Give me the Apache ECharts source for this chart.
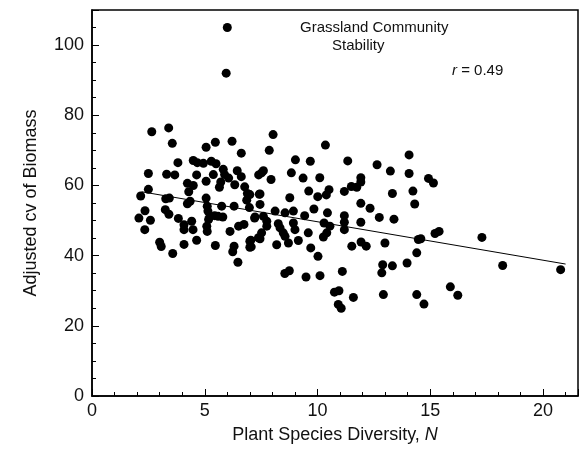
<!DOCTYPE html>
<html>
<head>
<meta charset="utf-8">
<script src="https://cdn.jsdelivr.net/npm/echarts@6/dist/echarts.min.js"></script>
<style>html,body{margin:0;background:#fff}#main{width:580px;height:451px}</style>
</head>
<body>
<div id="main"></div>
<script>
// 读图估计的点: 物种多样性 N, 生物量校正 CV
var diversity = [2.65,3.40,3.56,2.50,3.31,3.67,3.81,2.50,2.16,2.35,2.08,2.59,2.34,3.00,3.07,3.58,3.27,3.43,3.25,3.41,3.83,4.08,4.08,4.42,4.08,4.64,4.48,4.23,4.49,4.29,4.23,4.35,4.64,4.49,4.67,4.94,5.06,5.47,5.29,5.50,5.38,5.06,5.65,5.71,5.82,5.88,6.06,5.06,5.11,5.14,5.23,5.44,5.59,5.80,5.75,5.17,5.09,5.11,5.47,6.12,6.30,6.50,6.74,7.04,7.06,6.30,6.24,6.47,6.21,6.62,6.33,6.44,6.62,6.77,6.89,6.86,6.98,7.21,7.39,7.42,7.38,
  8.03,7.86,10.35,9.02,9.68,11.34,12.64,13.23,14.06,14.06,14.23,14.31,13.32,7.52,7.60,7.94,8.84,9.36,10.10,9.61,10.01,10.39,10.51,11.19,11.50,11.74,11.92,11.92,8.77,7.45,7.45,7.00,11.92,12.33,9.84,8.12,8.56,8.93,9.43,10.44,11.19,12.74,13.39,7.23,7.60,7.75,8.26,8.93,10.29,10.55,11.19,11.92,11.19,7.75,8.34,8.48,9.00,9.59,10.41,10.26,7.52,7.45,7.00,8.56,8.71,9.15,8.19,7.00,9.70,10.02,11.52,11.93,12.16,12.99,14.40,14.47,8.55,8.75,9.49,10.11,11.10,12.89,13.32,13.97,12.85,10.75,10.95,11.59,10.92,12.92,14.40,
  14.92,15.14,15.21,15.39,14.58,17.29,18.21,20.78,14.72,15.89,16.22,11.05,6.00,5.95];
var cvBiomass = [75.3,76.4,72.0,63.4,63.2,63.0,66.5,58.9,57.0,52.8,50.7,50.1,47.4,43.8,42.6,40.6,56.2,56.4,53.1,51.8,50.6,48.8,47.4,49.8,43.2,44.4,47.4,60.6,60.0,58.2,54.8,55.5,63.0,67.1,66.5,66.3,70.9,72.3,66.9,66.2,63.1,61.2,59.5,61.0,64.6,63.1,62.1,56.4,54.1,52.7,51.2,51.4,51.2,51.0,54.1,50.3,48.4,46.9,42.9,46.9,54.1,48.4,48.9,44.4,42.5,42.7,41.1,38.1,72.6,69.2,60.2,64.2,62.5,59.6,57.7,55.8,53.7,50.7,63.0,57.5,45.1,
  74.5,70.0,71.5,67.3,66.9,67.0,65.9,64.1,68.7,63.4,58.4,54.7,57.7,63.6,64.2,61.7,63.6,62.1,62.2,58.4,56.8,57.3,58.8,58.3,59.7,59.5,62.2,61.0,56.5,57.6,54.6,57.4,54.9,53.5,53.3,52.7,52.2,52.7,51.4,52.2,51.4,50.9,50.4,51.0,51.2,49.8,49.1,49.3,49.3,48.4,49.5,49.5,47.4,48.4,47.9,46.5,47.4,46.5,46.5,45.3,46.5,44.8,44.1,45.5,43.6,44.3,43.1,42.4,42.2,39.8,42.7,43.9,42.7,43.6,40.8,44.6,34.9,35.7,33.9,34.3,35.5,37.4,37.1,37.9,35.1,29.6,30.0,28.1,26.1,28.9,28.9,
  62.0,60.7,46.3,46.9,44.8,45.2,37.2,36.0,26.2,31.1,28.7,25.0,105.0,92.0];
var fitX = [2.2, 21];
var fitY = [58.2, 37.6];

var points = diversity.map(function (v, i) { return [v, cvBiomass[i]]; });
var fit = fitX.map(function (v, i) { return [v, fitY[i]]; });

var chart = echarts.init(document.getElementById('main'));
var font = 'Liberation Sans, Arial, sans-serif';
chart.setOption({
    animation: false,
    backgroundColor: '#fff',
    grid: { left: 92, right: 2, top: 10, bottom: 55, show: true, borderColor: '#000', borderWidth: 1.5 },
    xAxis: {
        type: 'value', min: 0, max: 21.55, interval: 5,
        name: 'Plant Species Diversity, {i|N}', nameLocation: 'middle', nameGap: 30,
        nameTextStyle: { fontFamily: font, fontSize: 18, color: '#111', rich: { i: { fontStyle: 'italic', fontSize: 18, fontFamily: font } } },
        axisLine: { lineStyle: { color: '#000', width: 1.5 } },
        axisTick: { inside: true, length: 7, lineStyle: { color: '#000' } },
        minorTick: { show: true, splitNumber: 5, length: 4, lineStyle: { color: '#000' } },
        axisLabel: { fontFamily: font, fontSize: 18, color: '#111', margin: 6, showMaxLabel: false },
        splitLine: { show: false }
    },
    yAxis: {
        type: 'value', min: 0, max: 110, interval: 20,
        name: 'Adjusted cv of Biomass', nameLocation: 'middle', nameGap: 52,
        nameTextStyle: { fontFamily: font, fontSize: 18, color: '#111' },
        axisLine: { lineStyle: { color: '#000', width: 1.5 } },
        axisTick: { inside: true, length: 7, lineStyle: { color: '#000' } },
        minorTick: { show: true, splitNumber: 4, length: 4, lineStyle: { color: '#000' } },
        axisLabel: { fontFamily: font, fontSize: 18, color: '#111', margin: 8, showMaxLabel: false },
        splitLine: { show: false }
    },
    graphic: [
        { type: 'text', left: 300, top: 20, style: { text: 'Grassland Community', font: '15px ' + font, fill: '#111' } },
        { type: 'text', left: 332, top: 38, style: { text: 'Stability', font: '15px ' + font, fill: '#111' } },
        { type: 'text', left: 452, top: 63, style: { text: '{i|r} = 0.49', font: '15px ' + font, fill: '#111', rich: { i: { fontStyle: 'italic', fontSize: 15, fontFamily: font } } } }
    ],
    series: [
        { type: 'scatter', data: points, symbolSize: 9, itemStyle: { color: '#000', opacity: 1 } },
        { type: 'line', data: fit, symbol: 'none', lineStyle: { color: '#000', width: 1 } }
    ]
});
</script>
</body>
</html>
